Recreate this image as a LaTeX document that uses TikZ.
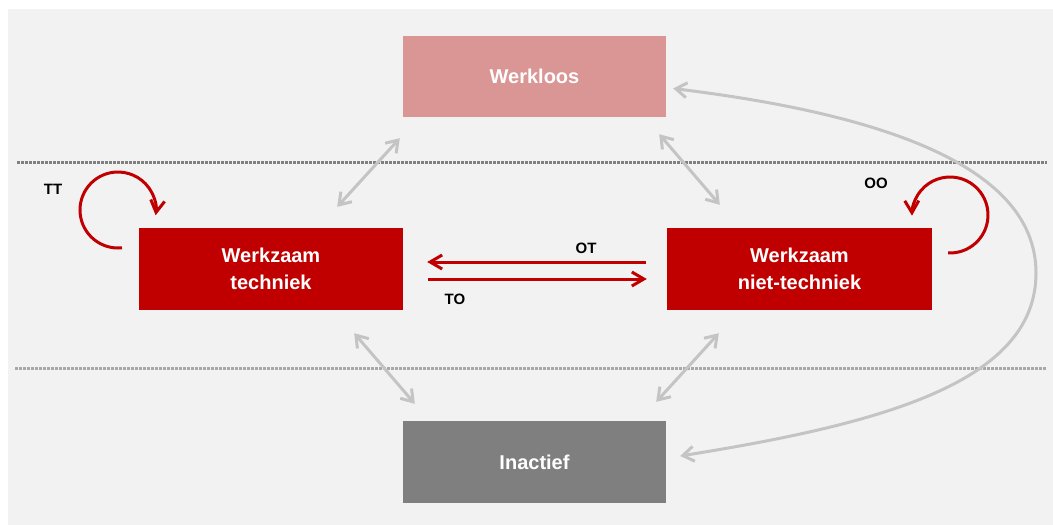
\documentclass[tikz,border=0pt]{standalone}
\usepackage{fontspec}
\setmainfont{Liberation Sans}
\usetikzlibrary{arrows.meta,calc}
\definecolor{panel}{HTML}{F2F2F2}
\definecolor{jobred}{HTML}{C00000}
\definecolor{jobpink}{HTML}{D99694}
\definecolor{idlegray}{HTML}{7F7F7F}
\definecolor{flowgray}{HTML}{C4C4C4}
\definecolor{sepdark}{HTML}{808080}
\definecolor{seplight}{HTML}{A8A8A8}

\begin{document}
\begin{tikzpicture}[x=1pt,y=-1pt,
  state/.style={rectangle, minimum width=264pt, minimum height=82pt, inner sep=0pt,
    text=white, align=center, font=\fontsize{20}{27}\selectfont\bfseries},
  tag/.style={font=\fontsize{15}{18}\selectfont\bfseries, text=black, inner sep=0pt},
  flow/.style={draw=flowgray, line width=3pt,
    {Straight Barb[length=11pt,width=15pt]}-{Straight Barb[length=11pt,width=15pt]}},
  move/.style={draw=jobred, line width=3pt, -{Straight Barb[length=12pt,width=14pt]}},
  sep/.style={line width=3pt, dash pattern=on 3pt off 1pt}]

% canvas
\useasboundingbox (0,0) rectangle (1053,525);
\fill[white] (0,0) rectangle (1053,525);
\fill[panel] (8,9) rectangle (1053,525);

% band separators
\draw[sep, draw=sepdark] (17,162) -- (1047,162);
\draw[sep, draw=seplight] (15,368) -- (1047,368);

% states
\node[state, fill=jobpink, minimum width=263pt, minimum height=81pt] (wl) at (534.5,76.5) {Werkloos};
\node[state, fill=jobred] (wt) at (271,269) {Werkzaam\\techniek};
\node[state, fill=jobred, minimum width=265pt] (wn) at (799.5,269) {Werkzaam\\niet-techniek};
\node[state, fill=idlegray, minimum width=263pt] (ia) at (534.5,462) {Inactief};

% end points of the diagonal exchanges
\coordinate (wlsw) at ($(wl.south west)+(-3,21)$);
\coordinate (wtne) at ($(wt.north east)+(-66,-21)$);
\coordinate (wlse) at ($(wl.south east)+(-7,17)$);
\coordinate (wnnw) at ($(wn.north west)+(53,-23)$);
\coordinate (wtse) at ($(wt.south east)+(-49,23)$);
\coordinate (iane) at ($(ia.north west)+(12,-17)$);
\coordinate (wnsw) at ($(wn.south west)+(52,23)$);
\coordinate (ianw) at ($(ia.north east)+(-10,-19)$);

\draw[flow] (wlsw) -- (wtne);
\draw[flow] (wlse) -- (wnnw);
\draw[flow] (wtse) -- (iane);
\draw[flow] (wnsw) -- (ianw);

% long exchange between unemployed and inactive
\coordinate (wlr) at ($(wl.east)+(7,12)$);
\coordinate (iar) at ($(ia.east)+(14,-6)$);
\draw[flow] (wlr) .. controls (873,113) and (1036,163) .. (1036,273)
  .. controls (1036,383) and (880,424) .. (iar);

% moves between the two employed states
\draw[move] ($(wn.west)+(-21,-7)$) -- ($(wt.east)+(24,-7)$);
\draw[move] ($(wt.east)+(25,10)$) -- ($(wn.west)+(-20,10)$);
\node[tag] (ot) at (586,248) {OT};
\node[tag] (to) at (455,299) {TO};

% staying in the same state
\coordinate (ttc) at (118,210);
\draw[move] ($(ttc)+(84:38)$) arc[start angle=84, end angle=368, radius=38];
\node[tag] (tt) at (53,189) {TT};
\coordinate (ooc) at (950,215);
\draw[move] ($(ooc)+(93:38)$) arc[start angle=93, end angle=-181, radius=38];
\node[tag] (oo) at (876,183) {OO};
\end{tikzpicture}
\end{document}
